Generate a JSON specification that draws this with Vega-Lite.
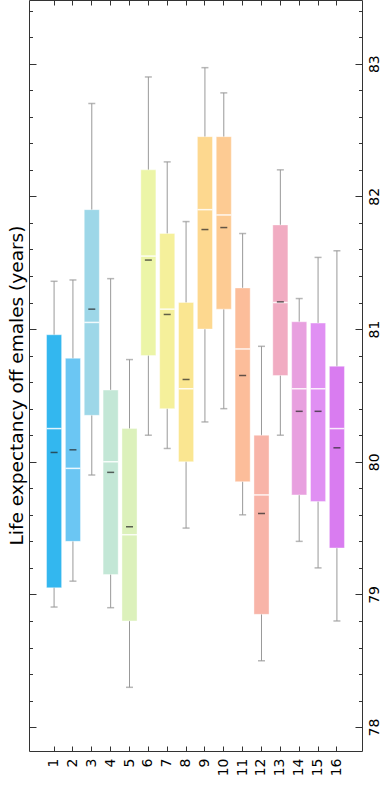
{
  "$schema": "https://vega.github.io/schema/vega-lite/v6.json",
  "autosize": {"type": "none"},
  "padding": {"left": 29, "top": 0, "right": 26, "bottom": 44},
  "width": 333,
  "height": 751,
  "data": {
    "values": [
      {"g": 1, "lo": 78.905, "q1": 79.05, "med": 80.25, "mean": 80.07, "q3": 80.957, "hi": 81.36},
      {"g": 2, "lo": 79.10, "q1": 79.40, "med": 79.95, "mean": 80.09, "q3": 80.78, "hi": 81.37},
      {"g": 3, "lo": 79.90, "q1": 80.35, "med": 81.05, "mean": 81.15, "q3": 81.90, "hi": 82.70},
      {"g": 4, "lo": 78.90, "q1": 79.15, "med": 80.00, "mean": 79.92, "q3": 80.54, "hi": 81.38},
      {"g": 5, "lo": 78.30, "q1": 78.80, "med": 79.45, "mean": 79.51, "q3": 80.25, "hi": 80.77},
      {"g": 6, "lo": 80.20, "q1": 80.80, "med": 81.55, "mean": 81.52, "q3": 82.20, "hi": 82.90},
      {"g": 7, "lo": 80.10, "q1": 80.40, "med": 81.15, "mean": 81.11, "q3": 81.72, "hi": 82.26},
      {"g": 8, "lo": 79.50, "q1": 80.00, "med": 80.55, "mean": 80.62, "q3": 81.20, "hi": 81.81},
      {"g": 9, "lo": 80.30, "q1": 81.00, "med": 81.90, "mean": 81.75, "q3": 82.45, "hi": 82.97},
      {"g": 10, "lo": 80.40, "q1": 81.15, "med": 81.86, "mean": 81.765, "q3": 82.45, "hi": 82.78},
      {"g": 11, "lo": 79.60, "q1": 79.85, "med": 80.85, "mean": 80.65, "q3": 81.31, "hi": 81.72},
      {"g": 12, "lo": 78.50, "q1": 78.85, "med": 79.75, "mean": 79.61, "q3": 80.20, "hi": 80.87},
      {"g": 13, "lo": 80.20, "q1": 80.65, "med": 81.20, "mean": 81.205, "q3": 81.785, "hi": 82.20},
      {"g": 14, "lo": 79.40, "q1": 79.75, "med": 80.55, "mean": 80.38, "q3": 81.055, "hi": 81.23},
      {"g": 15, "lo": 79.20, "q1": 79.70, "med": 80.55, "mean": 80.38, "q3": 81.045, "hi": 81.54},
      {"g": 16, "lo": 78.80, "q1": 79.35, "med": 80.25, "mean": 80.105, "q3": 80.72, "hi": 81.59}
    ]
  },
  "config": {
    "view": {"stroke": "#333", "strokeWidth": 1},
    "axis": {
      "domain": false,
      "grid": false,
      "labelFont": "DejaVu Sans",
      "titleFont": "DejaVu Sans",
      "tickColor": "#333",
      "tickWidth": 1,
      "labelColor": "#000",
      "titleColor": "#000",
      "titleFontWeight": "normal"
    }
  },
  "layer": [
    {
      "mark": {"type": "rule", "color": "#999", "strokeWidth": 1},
      "encoding": {
        "x": {"field": "g", "type": "ordinal", "scale": {"paddingInner": 0.2, "paddingOuter": 0.93},
              "axis": {"orient": "bottom", "title": null, "labelAngle": -90, "labelAlign": "right", "labelBaseline": "middle", "labelFontSize": 14, "tickSize": -5, "labelPadding": 12}},
        "y": {"field": "lo", "type": "quantitative", "scale": {"domain": [77.82, 83.48], "nice": false, "zero": false},
              "axis": {"orient": "right", "title": null, "values": [78, 79, 80, 81, 82, 83], "labelAngle": -90, "labelAlign": "center", "labelBaseline": "top", "labelFontSize": 14, "tickSize": -7, "labelPadding": 12}},
        "y2": {"field": "hi"}
      }
    },
    {
      "mark": {"type": "bar", "stroke": "white", "strokeOpacity": 0.4, "strokeWidth": 1},
      "encoding": {
        "x": {"field": "g", "type": "ordinal",
              "axis": {"orient": "top", "title": null, "labels": false, "tickSize": -5}},
        "y": {"field": "q1", "type": "quantitative",
              "axis": {"orient": "right", "title": null, "labels": false, "tickSize": -3.5,
                       "values": [77.8, 78.2, 78.4, 78.6, 78.8, 79.2, 79.4, 79.6, 79.8, 80.2, 80.4, 80.6, 80.8, 81.2, 81.4, 81.6, 81.8, 82.2, 82.4, 82.6, 82.8, 83.2, 83.4]}},
        "y2": {"field": "q3"},
        "color": {"field": "g", "type": "nominal", "legend": null,
                  "scale": {"domain": [1, 2, 3, 4, 5, 6, 7, 8, 9, 10, 11, 12, 13, 14, 15, 16],
                            "range": ["#33b7ef", "#6bc6f3", "#9dd7e8", "#c3e7d6", "#dcf1bb", "#ecf5a7", "#f5f09b", "#fae691", "#fdd88f", "#fdcb93", "#fcbd9a", "#f8b4a8", "#f1acc2", "#e8a0df", "#e090f3", "#d97cf0"]}}
      }
    },
    {
      "mark": {"type": "tick", "color": "#999", "size": 7, "thickness": 1.5},
      "encoding": {
        "x": {"field": "g", "type": "ordinal", "axis": null},
        "y": {"field": "lo", "type": "quantitative",
              "axis": {"orient": "left", "title": "Life expectancy off emales (years)", "titleFontSize": 18.5, "titlePadding": 2, "titleY": 385, "labels": false, "tickSize": -7, "values": [78, 79, 80, 81, 82, 83]}}
      }
    },
    {
      "mark": {"type": "tick", "color": "#999", "size": 7, "thickness": 1.5},
      "encoding": {
        "x": {"field": "g", "type": "ordinal", "axis": null},
        "y": {"field": "hi", "type": "quantitative",
              "axis": {"orient": "left", "title": null, "labels": false, "tickSize": -3.5,
                       "values": [77.8, 78.2, 78.4, 78.6, 78.8, 79.2, 79.4, 79.6, 79.8, 80.2, 80.4, 80.6, 80.8, 81.2, 81.4, 81.6, 81.8, 82.2, 82.4, 82.6, 82.8, 83.2, 83.4]}}
      }
    },
    {
      "mark": {"type": "tick", "color": "white", "size": 15, "thickness": 1.5, "opacity": 0.85},
      "encoding": {
        "x": {"field": "g", "type": "ordinal", "axis": null},
        "y": {"field": "med", "type": "quantitative", "axis": null}
      }
    },
    {
      "mark": {"type": "tick", "color": "#222", "size": 7, "thickness": 1.5},
      "encoding": {
        "x": {"field": "g", "type": "ordinal", "axis": null},
        "y": {"field": "mean", "type": "quantitative", "axis": null}
      }
    }
  ],
  "resolve": {"axis": {"x": "independent", "y": "independent"}}
}
